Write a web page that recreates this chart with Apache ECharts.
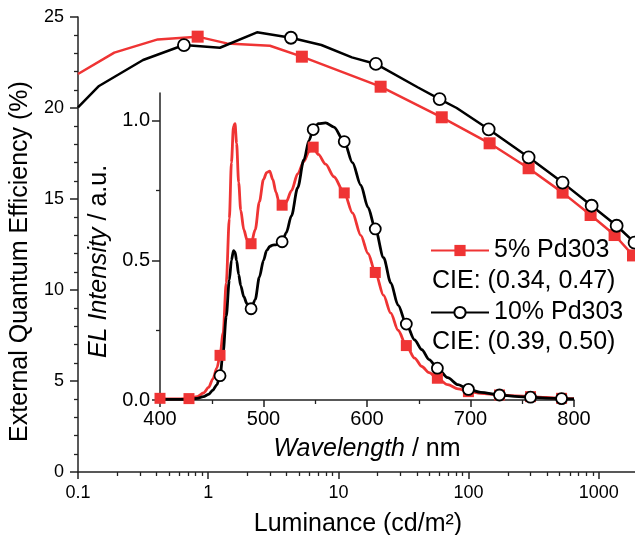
<!DOCTYPE html>
<html>
<head>
<meta charset="utf-8">
<script src="https://cdn.jsdelivr.net/npm/echarts@6/dist/echarts.min.js"></script>
<style>
  html, body { margin: 0; padding: 0; background: #fff; }
  #chart { width: 635px; height: 535px; }
</style>
</head>
<body>
<div id="chart"></div>
<script>
// EQE vs luminance (main plot)
const lum5 = [0.1, 0.19, 0.41, 0.83, 1.39, 2.98, 5.24, 21.1, 62.2, 145, 289, 527, 865, 1322, 1830]
const eqe5 = [21.87, 23.04, 23.77, 23.92, 23.55, 23.42, 22.82, 21.17, 19.49, 18.06, 16.69, 15.35, 14.12, 13.02, 11.9]
const marks5 = [0.83, 5.24, 21.1, 62.2, 145, 289, 527, 865, 1322, 1830]

const lum10 = [0.1, 0.145, 0.316, 0.651, 1.23, 2.37, 4.32, 7.4, 12.7, 19.4, 40.6, 59.9, 81, 142.6, 289, 527, 881, 1371, 1883]
const eqe10 = [20.03, 21.21, 22.64, 23.46, 23.31, 24.16, 23.86, 23.46, 22.78, 22.42, 21.14, 20.49, 20.0, 18.83, 17.29, 15.9, 14.63, 13.53, 12.6]
const marks10 = [0.651, 4.32, 19.4, 59.9, 142.6, 289, 527, 881, 1371, 1883]

const lumTicks = [0.1, 1, 10, 100, 1000]
const lumMinorTicks = [0.2, 0.3, 0.4, 0.5, 0.6, 0.7, 0.8, 0.9, 2, 3, 4, 5, 6, 7, 8, 9,
  20, 30, 40, 50, 60, 70, 80, 90, 200, 300, 400, 500, 600, 700, 800, 900, 2000]

// EL spectra (inset)
const wavelengths = [400, 410, 420, 428, 436, 442, 447, 451, 455, 458, 461, 464, 467, 469, 471, 472.5, 474, 476, 478, 481,
  484, 488, 492, 496, 500, 503, 506, 509, 512, 515, 518, 522, 527, 533, 539, 544, 548, 553, 560, 568,
  578, 586, 594, 601, 608, 616, 623, 630, 638, 646, 653, 660, 668, 678, 688, 698, 710, 728, 743, 758,
  773, 788, 800]
const spec5 = [0.006, 0.004, 0.004, 0.005, 0.012, 0.025, 0.045, 0.075, 0.115, 0.16, 0.24, 0.42, 0.65, 0.85, 0.98, 0.99, 0.92, 0.78, 0.68, 0.61,
  0.575, 0.56, 0.61, 0.71, 0.79, 0.815, 0.82, 0.79, 0.745, 0.71, 0.698, 0.71, 0.75, 0.81, 0.855, 0.89, 0.906, 0.88, 0.845, 0.80,
  0.742, 0.67, 0.59, 0.525, 0.457, 0.375, 0.311, 0.25, 0.195, 0.15, 0.12, 0.098, 0.078, 0.055, 0.04, 0.03, 0.024, 0.018, 0.015, 0.012,
  0.009, 0.006, 0.005]
const spec10 = [0.003, 0.002, 0.002, 0.003, 0.006, 0.012, 0.02, 0.035, 0.055, 0.087, 0.17, 0.3, 0.43, 0.5, 0.535, 0.53, 0.5, 0.45, 0.41, 0.37,
  0.345, 0.327, 0.36, 0.44, 0.5, 0.535, 0.55, 0.555, 0.556, 0.56, 0.567, 0.6, 0.66, 0.76, 0.86, 0.93, 0.969, 0.99, 0.993, 0.978,
  0.926, 0.85, 0.77, 0.69, 0.613, 0.51, 0.42, 0.34, 0.272, 0.215, 0.18, 0.145, 0.114, 0.08, 0.055, 0.038, 0.027, 0.018, 0.013, 0.01,
  0.007, 0.005, 0.004]
const specMarks5 = [400, 428, 458, 488, 518, 548, 578, 608, 638, 668, 698, 728, 758, 788]
const specMarks10 = [458, 488, 518, 548, 578, 608, 638, 668, 698, 728, 758, 788]

const intensityTicks = [0, 0.5, 1.0]
const intensityMinorTicks = [0.25, 0.75]

const cieLabels = ['CIE: (0.34, 0.47)', 'CIE: (0.39, 0.50)']

const RED = '#ef3434'
const FONT = 'Liberation Sans, Arial, sans-serif'
const AXIS_COLOR = '#222'

function pts(xs, ys, marks, symbol) {
  return xs.map((x, i) => ({ value: [x, ys[i]], symbol: marks.includes(x) ? symbol : 'none' }))
}

// fixed plot boxes, no automatic shrinking to fit labels
const mainGrid = { left: 78, top: 17, width: 560, height: 455, containLabel: false, outerBoundsMode: 'none' }
const insetGrid = { left: 160, top: 93, width: 414, height: 307, containLabel: false, outerBoundsMode: 'none' }

const axisLine = { show: true, lineStyle: { color: AXIS_COLOR, width: 1.5 } }
const hidden = { show: false }

const chart = echarts.init(document.getElementById('chart'), null, { renderer: 'canvas' })

const option = {
  animation: false,
  textStyle: { fontFamily: FONT },
  grid: [
    { ...mainGrid },
    { ...insetGrid },
    { ...mainGrid },
    { ...insetGrid },
  ],
  xAxis: [
    {
      type: 'log', gridIndex: 0, logBase: 10, min: 0.1, max: 2000,
      axisLine,
      axisTick: { customValues: lumTicks, length: 7, lineStyle: { color: AXIS_COLOR, width: 1.5 } },
      axisLabel: {
        customValues: lumTicks, fontSize: 18, color: '#000', margin: 12, fontFamily: FONT,
        formatter: v => (v >= 1 ? String(Math.round(v)) : String(v)),
      },
      splitLine: hidden,
      name: 'Luminance (cd/m²)', nameLocation: 'middle', nameGap: 40,
      nameTextStyle: { fontSize: 25, color: '#000', fontFamily: FONT },
    },
    {
      type: 'value', gridIndex: 1, min: 400, max: 800, interval: 100,
      axisLine,
      axisTick: { length: 7, lineStyle: { color: AXIS_COLOR, width: 1.5 } },
      minorTick: { show: true, splitNumber: 2, length: 4, lineStyle: { color: AXIS_COLOR, width: 1.3 } },
      axisLabel: { fontSize: 20, color: '#000', margin: 9, fontFamily: FONT },
      splitLine: hidden, minorSplitLine: hidden,
      name: '{i|Wavelength} / nm', nameLocation: 'middle', nameGap: 37,
      nameTextStyle: {
        fontSize: 25, color: '#000', fontFamily: FONT,
        rich: { i: { fontSize: 25, fontStyle: 'italic', fontFamily: FONT, color: '#000' } },
      },
    },
    {
      type: 'log', gridIndex: 2, logBase: 10, min: 0.1, max: 2000,
      axisLine: hidden,
      axisTick: { customValues: lumMinorTicks, length: 4, lineStyle: { color: AXIS_COLOR, width: 1.3 } },
      axisLabel: hidden, splitLine: hidden,
    },
    { type: 'value', gridIndex: 3, min: 400, max: 800, show: false },
  ],
  yAxis: [
    {
      type: 'value', gridIndex: 0, min: 0, max: 25, interval: 5,
      axisLine,
      axisTick: { length: 8, lineStyle: { color: AXIS_COLOR, width: 1.5 } },
      minorTick: { show: true, splitNumber: 5, length: 4, lineStyle: { color: AXIS_COLOR, width: 1.3 } },
      axisLabel: { fontSize: 18, color: '#000', margin: 14, fontFamily: FONT },
      splitLine: hidden, minorSplitLine: hidden,
      name: 'External Quantum Efficiency (%)', nameLocation: 'middle', nameGap: 42, nameRotate: 90,
      nameTextStyle: { fontSize: 25, color: '#000', fontFamily: FONT, padding: [0, 34, 0, 0] },
    },
    {
      type: 'value', gridIndex: 1, min: 0, max: 1.1,
      axisLine,
      axisTick: { customValues: intensityTicks, length: 8, lineStyle: { color: AXIS_COLOR, width: 1.5 } },
      axisLabel: {
        customValues: intensityTicks, fontSize: 20, color: '#000', margin: 10, fontFamily: FONT,
        formatter: v => v.toFixed(1),
      },
      splitLine: hidden,
      name: '{i|EL Intensity} / a.u.', nameLocation: 'middle', nameGap: 44, nameRotate: 90,
      nameTextStyle: {
        fontSize: 25, color: '#000', fontFamily: FONT, padding: [0, 30, 0, 0],
        rich: { i: { fontSize: 25, fontStyle: 'italic', fontFamily: FONT, color: '#000' } },
      },
    },
    { type: 'value', gridIndex: 2, min: 0, max: 25, show: false },
    {
      type: 'value', gridIndex: 3, min: 0, max: 1.1,
      axisLine: hidden,
      axisTick: { customValues: intensityMinorTicks, length: 4, lineStyle: { color: AXIS_COLOR, width: 1.3 } },
      axisLabel: hidden, splitLine: hidden,
    },
  ],
  legend: [
    {
      data: ['5% Pd303'], left: 425, top: 233, selectedMode: false,
      itemWidth: 58, itemHeight: 14,
      textStyle: { fontSize: 25, color: '#000', fontFamily: FONT },
    },
    {
      data: ['10% Pd303'], left: 425, top: 295, selectedMode: false,
      itemWidth: 58, itemHeight: 14,
      textStyle: { fontSize: 25, color: '#000', fontFamily: FONT },
    },
  ],
  graphic: cieLabels.map((t, i) => ({
    type: 'text', left: 432, top: [269, 330][i],
    style: { text: t, font: `25px ${FONT}`, fill: '#000' },
  })),
  series: [
    {
      name: '5% Pd303', type: 'line', xAxisIndex: 0, yAxisIndex: 0,
      data: pts(lum5, eqe5, marks5, 'rect'),
      symbol: 'rect', symbolSize: 12,
      lineStyle: { color: RED, width: 2.5 }, itemStyle: { color: RED },
    },
    {
      name: '10% Pd303', type: 'line', xAxisIndex: 0, yAxisIndex: 0,
      data: pts(lum10, eqe10, marks10, 'circle'),
      symbol: 'circle', symbolSize: 12,
      lineStyle: { color: '#000', width: 2.5 },
      itemStyle: { color: '#fff', borderColor: '#000', borderWidth: 1.8 },
    },
    {
      name: '5% Pd303', type: 'line', xAxisIndex: 1, yAxisIndex: 1,
      data: pts(wavelengths, spec5, specMarks5, 'rect'),
      symbol: 'rect', symbolSize: 11, smooth: 0.3, smoothMonotone: 'x',
      lineStyle: { color: RED, width: 2.8 }, itemStyle: { color: RED },
    },
    {
      name: '10% Pd303', type: 'line', xAxisIndex: 1, yAxisIndex: 1,
      data: pts(wavelengths, spec10, specMarks10, 'circle'),
      symbol: 'circle', symbolSize: 11, smooth: 0.3, smoothMonotone: 'x',
      lineStyle: { color: '#000', width: 2.8 },
      itemStyle: { color: '#fff', borderColor: '#000', borderWidth: 1.8 },
    },
  ],
}

chart.setOption(option)
</script>
</body>
</html>
